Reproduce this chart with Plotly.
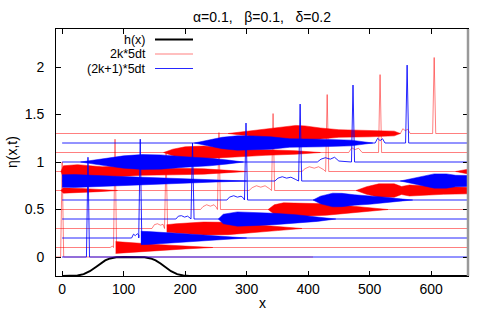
import plotly.graph_objects as go

# ---------------- data ----------------
# bottom profile h(x)
h_x = [0, 15, 25, 35, 45, 55, 62, 70, 78, 88, 100, 122, 134, 144, 152, 160, 167, 177, 187, 197, 207, 660]
h_y = [-0.2, -0.2, -0.195, -0.18, -0.15, -0.105, -0.068, -0.035, -0.015, -0.003, 0.0, 0.0,
       -0.003, -0.015, -0.035, -0.068, -0.105, -0.15, -0.18, -0.195, -0.2, -0.2]

# snapshots k = 0..14 (even k red, odd k blue)
snap_k = list(range(15))
baseline = [0.0, 0.0, 0.1, 0.2, 0.3, 0.4, 0.5, 0.6, 0.7, 0.8, 0.9, 1.0, 1.1, 1.2, 1.3]
crest_x = [0, 42, 86, 127, 169, 212, 255, 299, 343, 387, 431, 473, 517, 561, 605]
crest_y = [1.0, 1.05, 1.24, 1.24, 1.1, 1.2, 1.31, 1.41, 1.51, 1.61, 1.71, 1.81, 1.92, 2.02, 2.1]
x_start = [-10, 0, -10, 0, -10, 0, -10, 0, -10, 0, -10, 0, -10, 0, -10]
x_end = [408, 660, 660, 660, 660, 660, 660, 660, 660, 660, 660, 660, 660, 660, 660]

# small trailing ripples (x, height above baseline)
ripple_x = {
    2: [78, 82],
    3: [113, 116, 119, 122, 125],
    4: [146, 150, 155, 160, 164],
    5: [185, 189, 194, 199, 204, 208],
    6: [225, 229, 235, 241, 247, 251],
    7: [268, 272, 279, 285, 291, 295],
    8: [304, 309, 316, 323, 330, 337],
    9: [346, 351, 358, 365, 372, 380],
    10: [390, 395, 402, 410, 417, 425],
    11: [415, 421, 428, 436, 443, 450],
    12: [466, 471, 476, 482, 488],
    13: [509, 513, 517, 521, 525],
    14: [550, 554, 558, 562, 566],
}
ripple_dy = {
    2: [0.0, 0.015],
    3: [0.0, 0.04, 0.025, 0.045, 0.03],
    4: [0.0, 0.04, 0.05, 0.035, 0.045],
    5: [0.0, 0.03, 0.035, 0.02, 0.03, 0.01],
    6: [0.0, 0.03, 0.05, 0.035, 0.05, 0.02],
    7: [0.0, 0.03, 0.045, 0.03, 0.04, 0.02],
    8: [0.0, 0.03, 0.05, 0.035, 0.05, 0.02],
    9: [0.0, 0.03, 0.045, 0.03, 0.04, 0.015],
    10: [0.0, 0.03, 0.05, 0.035, 0.05, 0.02],
    11: [0.0, 0.03, 0.045, 0.03, 0.05, 0.01],
    12: [0.0, 0.05, 0.03, 0.045, 0.0],
    13: [0.0, 0.05, 0.025, 0.045, 0.0],
    14: [0.0, 0.05, 0.03, 0.045, 0.0],
}

# dispersive wave packets: envelope half-amplitude at x
packet_x = {
    2: [[87, 95, 120, 160, 200, 245]],
    3: [[128, 140, 180, 225, 260, 300]],
    4: [[170, 185, 230, 270, 310, 350, 390]],
    5: [[254, 262, 285, 310, 345, 380, 415, 445]],
    6: [[335, 345, 360, 400, 430, 465, 500, 530]],
    7: [[408, 420, 440, 455, 475, 500, 525, 550, 570]],
    8: [[-2, 2, 30, 60, 90], [478, 495, 515, 540, 552, 565, 590, 620, 660]],
    9: [[0, 20, 86, 150, 215, 260, 300], [550, 565, 585, 605, 625, 640, 660]],
    10: [[-2, 2, 25, 50, 65, 90, 130, 180, 230, 270, 300], [640, 660]],
    11: [[30, 60, 100, 130, 160, 200, 240, 270, 295]],
    12: [[165, 180, 200, 230, 260, 290, 330, 380, 420]],
    13: [[215, 235, 260, 285, 310, 340, 370, 420, 470, 505]],
    14: [[270, 300, 330, 360, 380, 395, 420, 450, 500, 540, 550]],
}
packet_h = {
    2: [[0.062, 0.058, 0.045, 0.03, 0.015, 0.0]],
    3: [[0.07, 0.068, 0.052, 0.036, 0.018, 0.0]],
    4: [[0.04, 0.05, 0.068, 0.065, 0.042, 0.022, 0.0]],
    5: [[0.0, 0.05, 0.075, 0.07, 0.06, 0.045, 0.025, 0.0]],
    6: [[0.0, 0.05, 0.07, 0.068, 0.06, 0.04, 0.018, 0.0]],
    7: [[0.0, 0.04, 0.072, 0.07, 0.055, 0.045, 0.03, 0.012, 0.0]],
    8: [[0.0, 0.028, 0.022, 0.012, 0.0], [0.0, 0.04, 0.07, 0.07, 0.042, 0.058, 0.05, 0.04, 0.035]],
    9: [[0.065, 0.068, 0.05, 0.033, 0.02, 0.008, 0.0], [0.0, 0.02, 0.05, 0.075, 0.075, 0.06, 0.058]],
    10: [[0.0, 0.06, 0.072, 0.055, 0.05, 0.055, 0.04, 0.035, 0.028, 0.012, 0.0], [0.0, 0.025]],
    11: [[0.0, 0.03, 0.065, 0.078, 0.075, 0.055, 0.04, 0.02, 0.0]],
    12: [[0.0, 0.035, 0.06, 0.068, 0.055, 0.04, 0.03, 0.018, 0.0]],
    13: [[0.0, 0.03, 0.06, 0.076, 0.075, 0.065, 0.045, 0.04, 0.03, 0.0]],
    14: [[0.0, 0.025, 0.045, 0.07, 0.085, 0.08, 0.058, 0.04, 0.035, 0.025, 0.0]],
}

legend_labels = ["h(x)", "2k*5dt", "(2k+1)*5dt"]
title_text = "\u03b1=0.1,\u00a0\u00a0\u00a0\u03b2=0.1,\u00a0\u00a0\u00a0\u03b4=0.2"

# ---------------- styles ----------------
FONT = "Liberation Sans, Arial, sans-serif"
FS = 14
LEG_FS = 12.5
RED_LINE = "rgba(255,0,0,0.5)"
BLUE_LINE = "rgba(0,0,255,0.85)"
RED_FILL = "#ff0000"
BLUE_FILL = "#0000ff"
CREST_HALF = 2.5

fig = go.Figure()

fig.add_trace(go.Scatter(x=h_x, y=h_y, mode="lines",
                         line=dict(color="black", width=2), hoverinfo="skip"))

def add_snapshot(k):
    b = baseline[k]
    red = (k % 2 == 0)
    lc = RED_LINE if red else BLUE_LINE
    fc = RED_FILL if red else BLUE_FILL
    xs = [x_start[k]]
    ys = [b]
    for rx, rdy in zip(ripple_x.get(k, []), ripple_dy.get(k, [])):
        xs.append(rx)
        ys.append(b + rdy)
    cx = crest_x[k]
    xs += [cx - CREST_HALF, cx, cx + CREST_HALF, x_end[k]]
    ys += [b, crest_y[k], b, b]
    fig.add_trace(go.Scatter(x=xs, y=ys, mode="lines",
                             line=dict(color=lc, width=1), hoverinfo="skip"))
    for pxl, phl in zip(packet_x.get(k, []), packet_h.get(k, [])):
        px = list(pxl) + list(pxl)[::-1]
        py = [b + h for h in phl] + [b - h for h in phl][::-1]
        fig.add_trace(go.Scatter(x=px, y=py, mode="lines", fill="toself",
                                 fillcolor=fc, line=dict(color=fc, width=0.5),
                                 hoverinfo="skip"))

for k in snap_k:
    if k % 2 == 0:
        add_snapshot(k)
for k in snap_k:
    if k % 2 == 1:
        add_snapshot(k)

# ---------------- layout ----------------
L, R, T, B = 56, 32, 29, 38
W, H = 500, 314
PW, PH = W - L - R, H - T - B

def xp(px):
    return (px - L) / PW

def yp(py):
    return (H - B - py) / PH

annotations = [
    dict(text=title_text, x=xp(262), y=yp(17), xref="paper", yref="paper",
         showarrow=False, xanchor="center", yanchor="middle",
         font=dict(family=FONT, size=FS, color="black")),
    dict(text="x", x=xp(262), y=yp(303), xref="paper", yref="paper",
         showarrow=False, xanchor="center", yanchor="middle",
         font=dict(family=FONT, size=FS, color="black")),
    dict(text="\u03b7(x,t)", x=xp(12), y=yp(152), xref="paper", yref="paper",
         showarrow=False, xanchor="center", yanchor="middle", textangle=-90,
         font=dict(family=FONT, size=FS, color="black")),
]
shapes = []
leg_rows = [39.5, 54, 68.5]
leg_colors = ["black", RED_LINE, BLUE_LINE]
leg_widths = [2, 1, 1]
for lab, row, col, wd in zip(legend_labels, leg_rows, leg_colors, leg_widths):
    annotations.append(dict(text=lab, x=xp(147), y=yp(row), xref="paper", yref="paper",
                            showarrow=False, xanchor="right", yanchor="middle",
                            borderpad=0,
                            font=dict(family=FONT, size=LEG_FS, color="black")))
    shapes.append(dict(type="line", xref="paper", yref="paper",
                       x0=xp(155), x1=xp(193), y0=yp(row), y1=yp(row),
                       line=dict(color=col, width=wd)))
# grey right border
shapes.append(dict(type="line", xref="paper", yref="paper", x0=1, x1=1, y0=0, y1=1,
                   line=dict(color="#999999", width=2.5), layer="above"))

fig.update_layout(
    width=W, height=H,
    margin=dict(l=L, r=R, t=T, b=B, pad=0),
    paper_bgcolor="white", plot_bgcolor="white",
    showlegend=False,
    annotations=annotations,
    shapes=shapes,
    font=dict(family=FONT, size=FS, color="black"),
    xaxis=dict(range=[-10, 660], tickvals=[0, 100, 200, 300, 400, 500, 600],
               ticks="inside", ticklen=5, tickcolor="black", tickwidth=1,
               showline=True, linecolor="black", linewidth=1, mirror="ticks",
               showgrid=False, zeroline=False, ticklabelstandoff=0,
               tickfont=dict(family=FONT, size=FS, color="black")),
    yaxis=dict(range=[-0.2, 2.4], tickvals=[0, 0.5, 1, 1.5, 2],
               ticktext=["0", "0.5", "1", "1.5", "2"],
               ticks="inside", ticklen=5, tickcolor="black", tickwidth=1,
               showline=True, linecolor="black", linewidth=1, mirror="ticks",
               showgrid=False, zeroline=False, ticklabelstandoff=8,
               tickfont=dict(family=FONT, size=FS, color="black")),
)

fig.write_html("out.html", config={"displayModeBar": False},
               post_script="document.body.style.margin='0';document.body.style.padding='0';")
